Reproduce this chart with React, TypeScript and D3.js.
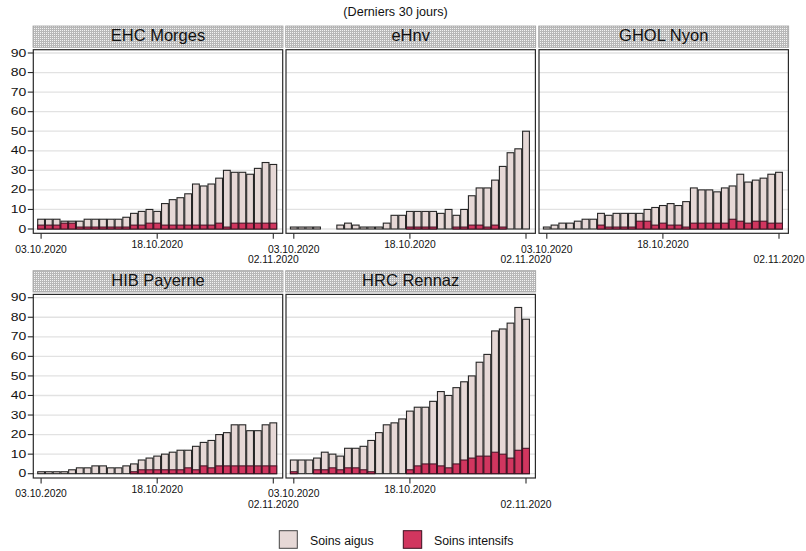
import React from "react";
import * as d3 from "d3";

// ---- data ----
const hospitals = ["EHC Morges", "eHnv", "GHOL Nyon", "HIB Payerne", "HRC Rennaz"];
const tickIndex = [0, 15, 30];
const tickLabels = ["03.10.2020", "18.10.2020", "02.11.2020"];
const yTicks = [0, 10, 20, 30, 40, 50, 60, 70, 80, 90];
const seriesNames = ["Soins aigus", "Soins intensifs"];

const morgesTotal = [5, 5, 5, 4, 4, 4, 5, 5, 5, 5, 5, 6, 8, 9, 10, 9, 13, 15, 16, 18, 23, 22, 23, 26, 30, 29, 29, 28, 31, 34, 33];
const morgesICU = [2, 2, 2, 3, 3, 1, 1, 1, 1, 1, 1, 1, 2, 2, 3, 3, 2, 2, 2, 2, 2, 2, 2, 3, 1, 3, 3, 3, 3, 3, 3];

const ehnvTotal = [1, 1, 1, 1, 0, 0, 2, 3, 2, 1, 1, 1, 3, 7, 7, 9, 9, 9, 9, 8, 10, 7, 10, 17, 21, 21, 25, 32, 39, 41, 50];
const ehnvICU = [0, 0, 0, 0, 0, 0, 0, 0, 0, 0, 0, 0, 0, 0, 0, 1, 1, 1, 1, 0, 0, 1, 1, 2, 2, 1, 2, 1, 0, 0, 0];

const nyonTotal = [1, 2, 3, 3, 4, 5, 5, 8, 7, 8, 8, 8, 8, 10, 11, 12, 13, 12, 14, 21, 20, 20, 19, 21, 22, 28, 24, 25, 26, 28, 29];
const nyonICU = [0, 0, 0, 0, 0, 0, 0, 2, 1, 1, 1, 1, 4, 4, 2, 3, 2, 2, 1, 3, 3, 3, 3, 3, 5, 4, 3, 4, 4, 3, 3];

const payerneTotal = [1, 1, 1, 1, 2, 3, 3, 4, 4, 3, 3, 4, 5, 7, 8, 9, 10, 11, 12, 12, 14, 16, 17, 20, 21, 25, 25, 22, 22, 25, 26];
const payerneICU = [0, 0, 0, 0, 0, 0, 0, 0, 0, 0, 0, 0, 1, 2, 2, 2, 2, 2, 2, 3, 2, 4, 3, 4, 4, 4, 4, 4, 4, 4, 4];

const rennazTotal = [7, 7, 7, 8, 11, 10, 9, 13, 13, 14, 17, 21, 25, 26, 28, 32, 34, 34, 37, 42, 40, 44, 47, 50, 57, 61, 73, 74, 77, 85, 79];
const rennazICU = [1, 0, 0, 2, 2, 3, 2, 3, 3, 2, 1, 0, 0, 0, 0, 2, 4, 5, 5, 4, 3, 5, 7, 8, 9, 9, 11, 10, 8, 12, 13];

const totals = [morgesTotal, ehnvTotal, nyonTotal, payerneTotal, rennazTotal];
const icus = [morgesICU, ehnvICU, nyonICU, payerneICU, rennazICU];

// ---- style ----
const FONT = "'Liberation Sans', Arial, Helvetica, sans-serif";
const LIGHT = "#e6d8d6";
const RED = "#d1365f";
const W = 806;
const H = 551;

const colLefts = [33.3, 286, 539];
const rowOffsets = [0, 244.7];
const BOX_W = 249.4;

function Panel({ idx }: { idx: number }) {
  const col = idx % 3;
  const row = Math.floor(idx / 3);
  const L = colLefts[col];
  const R = L + BOX_W;
  const off = rowOffsets[row];
  const boxTop = 49.7 + off;
  const boxBottom = 233.3 + off;

  const x = d3.scaleLinear().domain([0, 30]).range([L + 7.8, L + 240]);
  const y = d3.scaleLinear().domain([0, 90]).range([229 + off, 53 + off]);
  const bw = 6.8;
  const total = totals[idx];
  const icu = icus[idx];
  const labelBase = [252.5, 248.3, 263];

  return (
    <g>
      {/* header strip */}
      <rect x={L - 0.3} y={26 + off} width={BOX_W + 0.6} height={21.3} fill="url(#stip)" stroke="#a0a0a0" strokeWidth={0.8} />
      <text x={L + BOX_W / 2} y={40.8 + off} textAnchor="middle" fontSize={16.5} fill="#111" fontFamily={FONT}>
        {hospitals[idx]}
      </text>
      {/* plot box background */}
      <rect x={L} y={boxTop} width={BOX_W} height={boxBottom - boxTop} fill="#fff" />
      {/* grid */}
      {yTicks.map((t) => (
        <line key={t} x1={L} x2={R} y1={y(t)} y2={y(t)} stroke="#e2e2e2" strokeWidth={1.3} />
      ))}
      {/* bars */}
      {total.map((v, i) =>
        v > 0 ? (
          <rect key={"t" + i} x={x(i) - bw / 2} y={y(v)} width={bw} height={y(0) - y(v)} fill={LIGHT} stroke="#262626" strokeWidth={1.1} />
        ) : null
      )}
      {icu.map((v, i) =>
        v > 0 ? (
          <rect key={"i" + i} x={x(i) - bw / 2} y={y(v)} width={bw} height={y(0) - y(v)} fill={RED} stroke="#3a1020" strokeWidth={1} />
        ) : null
      )}
      {/* box */}
      <rect x={L} y={boxTop} width={BOX_W} height={boxBottom - boxTop} fill="none" stroke="#2a2a2a" strokeWidth={1.2} />
      {/* x ticks */}
      {tickIndex.map((t, k) => (
        <g key={t}>
          <line x1={x(t)} x2={x(t)} y1={boxBottom} y2={boxBottom + 5.5} stroke="#2a2a2a" strokeWidth={1.1} />
          <text x={x(t)} y={labelBase[k] + off} textAnchor="middle" fontSize={10.3} fill="#111" fontFamily={FONT}>
            {tickLabels[k]}
          </text>
        </g>
      ))}
      {/* y axis */}
      {col === 0 &&
        yTicks.map((t) => (
          <g key={"y" + t}>
            <line x1={L - 5.5} x2={L} y1={y(t)} y2={y(t)} stroke="#2a2a2a" strokeWidth={1.1} />
            <text
              transform={`translate(26.2,${y(t) + 3.6}) scale(1.4,1)`}
              textAnchor="end"
              fontSize={10}
              fill="#111"
              fontFamily={FONT}
            >
              {t}
            </text>
          </g>
        ))}
    </g>
  );
}

export default function App() {
  return (
    <svg width={W} height={H} style={{ position: "absolute", left: 0, top: 0, background: "#fff" }} xmlns="http://www.w3.org/2000/svg">
      <defs>
        <pattern id="stip" width={2} height={2} patternUnits="userSpaceOnUse">
          <rect width={2} height={2} fill="#b8b8b8" />
          <rect width={1} height={1} fill="#f4f4f4" />
        </pattern>
      </defs>
      <rect width={W} height={H} fill="#fff" />
      <text x={395.5} y={16.4} textAnchor="middle" fontSize={12.6} fill="#111" fontFamily={FONT}>
        (Derniers 30 jours)
      </text>
      {hospitals.map((h, i) => (
        <Panel key={h} idx={i} />
      ))}
      {/* legend */}
      <rect x={279.3} y={530.7} width={18} height={17.6} fill={LIGHT} stroke="#444" strokeWidth={1} />
      <text x={310} y={545} fontSize={12.3} fill="#111" fontFamily={FONT}>
        {seriesNames[0]}
      </text>
      <rect x={403.3} y={530.7} width={18.4} height={17.6} fill={RED} stroke="#3a1020" strokeWidth={1} />
      <text x={434} y={545} fontSize={12.3} fill="#111" fontFamily={FONT}>
        {seriesNames[1]}
      </text>
    </svg>
  );
}
